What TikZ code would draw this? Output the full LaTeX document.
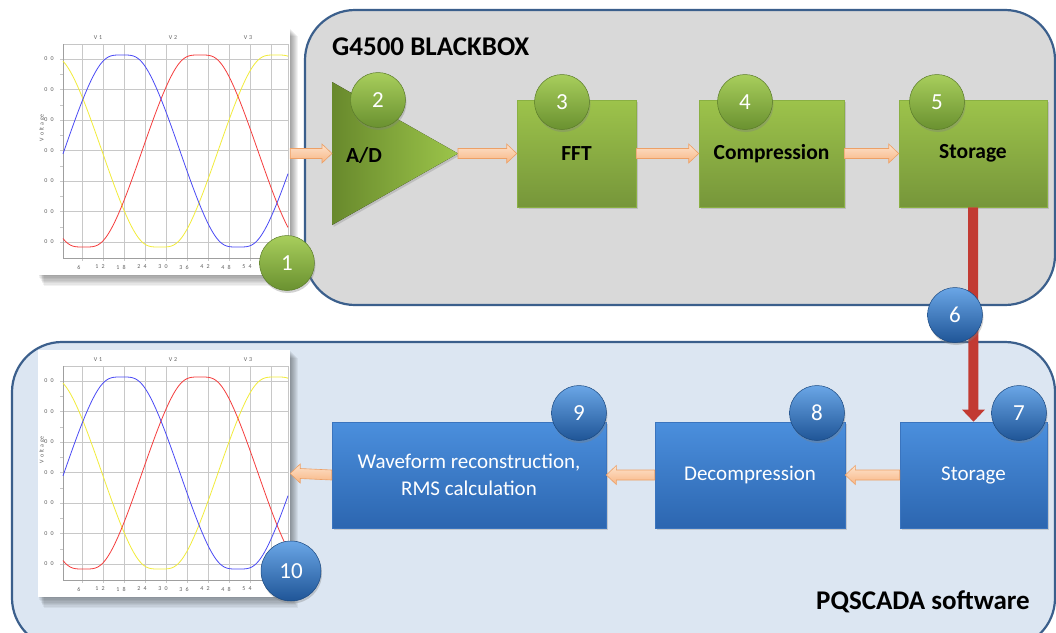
\documentclass[tikz,border=0pt]{standalone}
\usepackage{fontspec}
\setmainfont{Carlito}
\usetikzlibrary{calc,shadows,arrows.meta}
\definecolor{topbg}{HTML}{D9D9D9}
\definecolor{botbg}{HTML}{DCE6F2}
\definecolor{frameblue}{HTML}{3B5F8C}
\definecolor{gtop}{HTML}{9DC34B}
\definecolor{gbot}{HTML}{76963A}
\definecolor{gline}{HTML}{8AB043}
\definecolor{trileft}{HTML}{68892C}
\definecolor{triright}{HTML}{9CC54A}
\definecolor{btop}{HTML}{4B8FDD}
\definecolor{bbot}{HTML}{2C66B0}
\definecolor{bline}{HTML}{3A74BE}
\definecolor{gctop}{HTML}{A8CE5C}
\definecolor{gcbot}{HTML}{6A9130}
\definecolor{bctop}{HTML}{6AA6E6}
\definecolor{bcbot}{HTML}{1F5597}
\definecolor{atop}{HTML}{FDE2CB}
\definecolor{abot}{HTML}{F8B684}
\definecolor{aline}{HTML}{EDA066}
\definecolor{redarr}{HTML}{C23A32}
\definecolor{wblue}{HTML}{4A4AF5}
\definecolor{wred}{HTML}{F53D3D}
\definecolor{wyellow}{HTML}{F2EC3A}
\definecolor{chgrid}{HTML}{C8C8C8}
\definecolor{chtext}{HTML}{606060}

\newcommand{\wavechart}[2]{%
\begin{scope}[shift={(0,#2)}]
  \foreach \i in {1,...,8} {\fill[black, opacity=0.05] (38+\i*0.7, 28+\i*1.0) rectangle (290+\i*1.0, 275+\i*1.4);}
  \node[chartframe] (#1) at (164,151.5) {};
  \foreach \gx in {82,103,124,145,166,187,208,229,250,271} {\draw[chgrid, line width=0.5pt] (\gx,44) -- (\gx,261);}
  \foreach \gy in {59,89.5,120,150.5,181,211.5,242} {\draw[chgrid, line width=0.5pt] (60,\gy) -- (288,\gy);}
  \foreach \gy in {74.25,104.75,135.25,165.75,196.25,226.75} {\draw[chgrid, line width=0.5pt] (60,\gy) -- (63,\gy);}
  \draw[gray!45, line width=0.6pt] (63,44) -- (288,44) -- (288,258);
  \draw[gray!75, line width=0.8pt] (63,44) -- (63,258) -- (288,258);
  \foreach \gy in {59,89.5,120,150.5,181,211.5,242} {\node[chlabel] at (49,\gy) {0\enspace0};}
  \node[chlabel, rotate=90] at (42,128) {V\,\,o\,\,lt\,\,a\,\,ge};
  \node[chlabel] at (98,38) {V\,\,1};
  \node[chlabel] at (173,38) {V\,\,2};
  \node[chlabel] at (248,38) {V\,\,3};
  \foreach \bx/\bl in {79/6,100/1\enspace2,121/1\enspace8,142/2\enspace4,163/3\enspace0,184/3\enspace6,205/4\enspace2,226/4\enspace8,247/5\enspace4} {\node[chlabel] at (\bx,267) {\bl};}
  \draw[wyellow, line width=0.8pt] plot[domain=63:288, samples=180] (\x, {151-96*sw(1.5517*(\x-276))});
  \draw[wred, line width=0.8pt] plot[domain=63:288, samples=180] (\x, {151-96*sw(1.5517*(\x-200))});
  \draw[wblue, line width=0.8pt] plot[domain=63:288, samples=180] (\x, {151-96*sw(1.5517*(\x-122))});
\end{scope}}

\begin{document}
\begin{tikzpicture}[x=1pt, y=-1pt,
  declare function={sw(\t)=1.1*cos(\t)-0.1*cos(\t)*(cos(\t)*cos(\t))^5;},
  container/.style={draw=frameblue, line width=2.2pt, rounded corners=50pt},
  chartframe/.style={rectangle, fill=white, minimum width=252pt, minimum height=247pt, inner sep=0pt},
  chlabel/.style={font=\fontsize{6}{6}\selectfont, text=chtext, inner sep=0pt},
  softshadow/.style={drop shadow={opacity=0.3, shadow xshift=1.5pt, shadow yshift=-2pt}},
  greenbox/.style={rectangle, draw=gline, line width=0.6pt, top color=gtop, bottom color=gbot, minimum height=107pt, inner sep=0pt, font=\fontsize{21.5}{24}\selectfont\bfseries, text=black, softshadow},
  bluebox/.style={rectangle, draw=bline, line width=0.6pt, top color=btop, bottom color=bbot, minimum height=106pt, inner sep=0pt, align=center, font=\fontsize{21}{27}\selectfont, text=white, softshadow},
  numcirc/.style={circle, minimum size=55pt, inner sep=0pt, line width=0.5pt, text=white, font=\fontsize{23}{23}\selectfont, drop shadow={opacity=0.35, shadow xshift=1pt, shadow yshift=-2.5pt}},
  gcirc/.style={numcirc, top color=gctop, bottom color=gcbot, draw=gcbot!85!black},
  bcirc/.style={numcirc, top color=bctop, bottom color=bcbot, draw=bcbot!85!black},
  arrowstyle/.style={draw=aline, line width=0.6pt, top color=atop, bottom color=abot},
  barrowR/.style={arrowstyle, to path={($(\tikztostart)+(0,-5)$) -- ($(\tikztotarget)+(-10,-5)$) -- ($(\tikztotarget)+(-10,-9.5)$) -- (\tikztotarget) -- ($(\tikztotarget)+(-10,9.5)$) -- ($(\tikztotarget)+(-10,5)$) -- ($(\tikztostart)+(0,5)$) -- cycle}},
  barrowL/.style={arrowstyle, to path={($(\tikztostart)+(0,-5)$) -- ($(\tikztotarget)+(10,-5)$) -- ($(\tikztotarget)+(10,-9.5)$) -- (\tikztotarget) -- ($(\tikztotarget)+(10,9.5)$) -- ($(\tikztotarget)+(10,5)$) -- ($(\tikztostart)+(0,5)$) -- cycle}},
  redarrow/.style={draw=redarr, line width=10pt, -{Triangle[width=22pt, length=12pt]}},
  titletext/.style={font=\fontsize{27}{30}\selectfont\bfseries, text=black, inner sep=0pt}
]
\useasboundingbox (0,0) rectangle (1056,632);
\fill[white] (0,0) rectangle (1056,632);
\clip (0,0) rectangle (1056,632);

% containers
\draw[container, fill=topbg] (305,10) rectangle (1055,305);
\draw[container, fill=botbg] (12,342) rectangle (1055,648);

\node[titletext, anchor=west] (title) at (332,47) {G4500 BLACKBOX};
\node[titletext, anchor=east] (soft) at (1030,602) {PQSCADA software};

% charts
\wavechart{chartA}{0}
\wavechart{chartB}{322}

% top row
\fill[left color=trileft, right color=triright, drop shadow={opacity=0.3, shadow xshift=1.5pt, shadow yshift=-2pt}] (332,82) -- (458,153.5) -- (332,225) -- cycle;
\coordinate (adW) at (332,153.5);
\coordinate (adE) at (458,153.5);
\node[font=\fontsize{21.5}{24}\selectfont\bfseries, inner sep=0pt] (adtext) at (364,155) {A/D};
\node[greenbox, minimum width=119pt] (fft) at (576.5,153.5) {FFT};
\node[greenbox, minimum width=145pt] (comp) at (771.5,153.5) {Compression};
\node[greenbox, minimum width=148pt] (stor1) at (973,153.5) {Storage};

% bottom row
\node[bluebox, minimum width=147pt] (stor2) at (973.5,475) {Storage};
\node[bluebox, minimum width=190pt] (decomp) at (750,475) {Decompression};
\node[bluebox, minimum width=274pt] (wave) at (469,475) {Waveform reconstruction,\\RMS calculation};

% arrows
\coordinate (chAE) at (chartA.east |- adW);
\path[barrowR] (chAE) to (adW);
\path[barrowR] (adE) to (fft.west);
\path[barrowR] (fft.east) to (comp.west);
\path[barrowR] (comp.east) to (stor1.west);
\path[barrowL] (stor2.west) to (decomp.east);
\path[barrowL] (decomp.west) to (wave.east);
\path[barrowL] (wave.west) to (chartB.east);
\draw[redarrow] (stor1.south) -- (stor2.north);

% numbered circles
\node[gcirc] (n1) at (287,263) {1};
\node[gcirc] (n2) at (378,100) {2};
\node[gcirc] (n3) at (562,102) {3};
\node[gcirc] (n4) at (745,102) {4};
\node[gcirc] (n5) at (937,102) {5};
\node[bcirc] (n6) at (955,315) {6};
\node[bcirc] (n7) at (1019,413) {7};
\node[bcirc] (n8) at (817,413) {8};
\node[bcirc] (n9) at (579,413) {9};
\node[bcirc, minimum size=60pt] (n10) at (291,571) {10};
\end{tikzpicture}
\end{document}
